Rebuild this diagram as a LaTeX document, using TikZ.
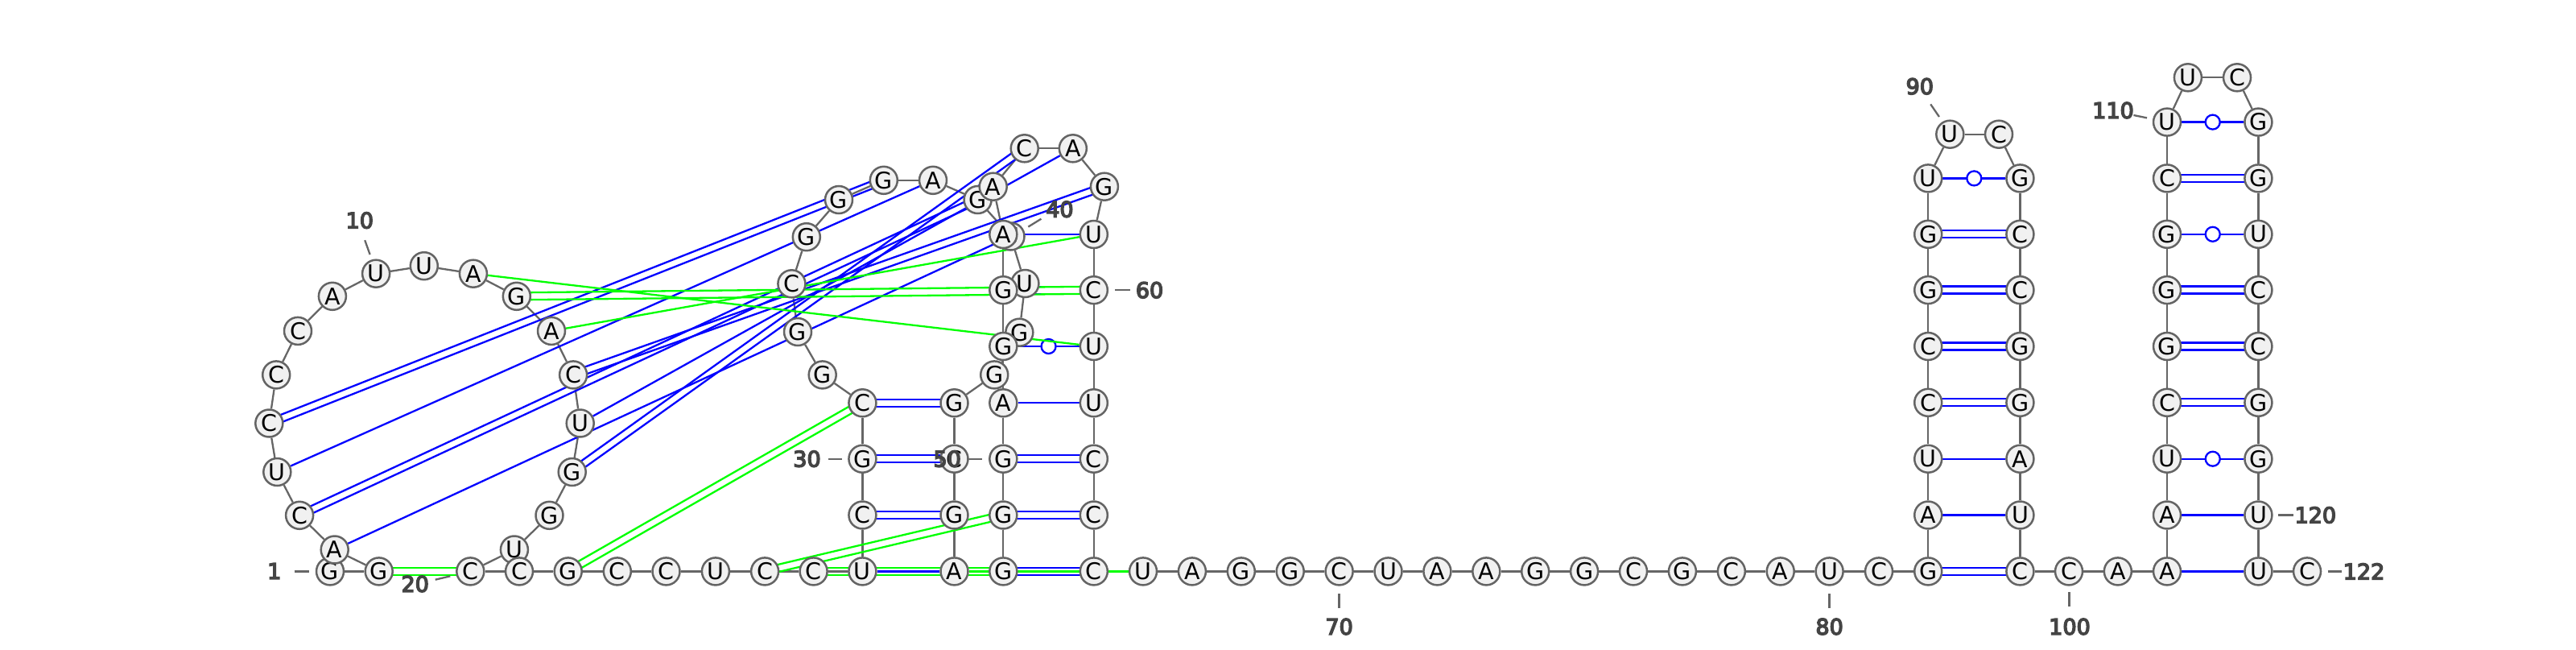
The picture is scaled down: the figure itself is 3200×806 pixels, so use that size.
\documentclass[tikz,border=0pt]{standalone}
\usepackage{fontspec}
\setmainfont{DejaVu Sans}
\newfontfamily\labfont[FakeBold=5.5]{DejaVu Sans}
\usetikzlibrary{calc,backgrounds}
\definecolor{nodefill}{RGB}{241,241,241}
\definecolor{nodeline}{RGB}{100,100,100}
\definecolor{linkgray}{RGB}{102,102,102}
\definecolor{labgray}{RGB}{68,68,68}
\definecolor{purebl}{RGB}{0,0,255}
\definecolor{puregr}{RGB}{0,255,0}
\tikzset{
  nt/.style={circle,draw=nodeline,fill=nodefill,line width=2.5pt,minimum size=34pt,inner sep=0pt,font=\fontsize{28.5}{28.5}\selectfont},
  labeltext/.style={inner sep=0pt,text=labgray,font=\fontsize{27}{27}\labfont},
  tickline/.style={draw=linkgray,line width=2.3pt},
  backbone/.style={draw=linkgray,line width=2.3pt},
  bl/.style={draw=purebl,line width=2.3pt},
  gr/.style={draw=puregr,line width=2.3pt},
  guring/.style={circle,draw=purebl,fill=white,line width=2.3pt,minimum size=18pt,inner sep=0pt}
}
\newcommand{\pairS}[3]{\draw[#1] (n#2) -- (n#3);}
\newcommand{\pairD}[3]{%
  \draw[#1] ($(n#2)!4.5pt!90:(n#3)$) -- ($(n#3)!4.5pt!-90:(n#2)$);
  \draw[#1] ($(n#2)!4.5pt!-90:(n#3)$) -- ($(n#3)!4.5pt!90:(n#2)$);}
\newcommand{\pairW}[2]{%
  \draw[bl] (n#1) -- (n#2);
  \node[guring] (w#1) at ($(n#1)!.5!(n#2)$) {};}
\newcommand{\numlab}[8]{%
  \node[labeltext] (l#1) at (#2,#3) {#4};
  \coordinate (ta#1) at (#5,#6);
  \coordinate (tb#1) at (#7,#8);
  \draw[tickline] (ta#1) -- (tb#1);}
\begin{document}
\begin{tikzpicture}[x=1pt,y=-1pt]
\useasboundingbox (0,0) rectangle (3200,806);
\foreach \i/\px/\py/\L in {
1/410/709.4/G,2/470.7/709.4/G,3/415.7/682.5/A,4/372.1/639.8/C,5/344.3/586/U,6/334.3/525.5/C,
7/343.2/465.4/C,8/370/410.9/C,9/412.9/367.8/A,10/467.1/339.7/U,11/526.8/330.2/U,12/587.9/339.7/A,
13/641.8/367.8/G,14/685/410.9/A,15/712.1/465.4/C,16/720.7/525.5/U,17/710.7/586/G,18/682.5/639.8/G,
19/638.9/682.5/U,20/584.3/709.4/C,21/645/709.4/C,22/705.7/709.4/G,23/766.8/709.4/C,24/827.5/709.4/C,
25/888.9/709.4/U,26/950.1/709.4/C,27/1010.6/709.4/C,28/1071.4/709.4/U,29/1071.4/639.5/C,30/1071.4/569.7/G,
31/1071.4/500.3/C,32/1021.7/465.4/G,33/991/412/G,34/983.4/352.3/C,35/1001.8/294.2/G,36/1042/248/G,
37/1097.8/223.8/G,38/1159/223.8/A,39/1214.6/248/G,40/1255.5/293.5/U,41/1273.4/352/U,42/1266.3/412.7/G,
43/1235.2/465.4/G,44/1185.5/500.3/G,45/1185.5/569.7/C,46/1185.5/639.5/G,47/1185.5/709.4/A,48/1246.3/709.4/G,
49/1246.3/639.5/G,50/1246.3/569.7/G,51/1246.3/500.3/A,52/1246.3/430/G,53/1246.3/360.2/G,54/1246.3/291/A,
55/1233.7/231.7/A,56/1272.7/184.3/C,57/1332.8/184.3/A,58/1371.9/231.7/G,59/1358.8/291/U,60/1358.8/360.2/C,
61/1358.8/430/U,62/1358.8/500.3/U,63/1358.8/569.7/C,64/1358.8/639.5/C,65/1358.8/709.4/C,66/1420/709.4/U,
67/1480.9/709.4/A,68/1541.8/709.4/G,69/1602.7/709.4/G,70/1663.6/709.4/C,71/1724.5/709.4/U,72/1785.4/709.4/A,
73/1846.3/709.4/A,74/1907.2/709.4/G,75/1968.1/709.4/G,76/2029/709.4/C,77/2089.9/709.4/G,78/2150.8/709.4/C,
79/2211.7/709.4/A,80/2272.6/709.4/U,81/2334/709.4/C,82/2395.2/709.4/G,83/2395.2/639.5/A,84/2395.2/569.7/U,
85/2395.2/499.8/C,86/2395.2/430/C,87/2395.2/360.1/G,88/2395.2/290.8/G,89/2395.2/221.4/U,90/2422.3/166.7/U,
91/2483/166.7/C,92/2509.4/221.4/G,93/2509.4/290.8/C,94/2509.4/360.1/C,95/2509.4/430/G,96/2509.4/499.8/G,
97/2509.4/569.7/A,98/2509.4/639.5/U,99/2509.4/709.4/C,100/2570/709.4/C,101/2630.8/709.4/A,102/2692/709.4/A,
103/2692/639.5/A,104/2692/569.7/U,105/2692/499.8/C,106/2692/430/G,107/2692/360.1/G,108/2692/290.8/G,
109/2692/221.4/C,110/2692/151.6/U,111/2717.9/96.3/U,112/2779/96.3/C,113/2805.4/151.6/G,114/2805.4/221.4/G,
115/2805.4/290.8/U,116/2805.4/360.1/C,117/2805.4/430/C,118/2805.4/499.8/G,119/2805.4/569.7/G,120/2805.4/639.5/U,
121/2805.4/709.4/U,122/2866/709.4/C}{
  \node[nt] (n\i) at (\px,\py) {\L};
}
\begin{pgfonlayer}{background}
  \foreach \i [evaluate=\i as \j using int(\i+1)] in {1,...,121} {
    \draw[backbone] (n\i) -- (n\j);
  }
  % blue pairs: long range
  \pairS{bl}{3}{40}
  \pairD{bl}{4}{39}
  \pairS{bl}{5}{38}
  \pairD{bl}{6}{37}
  \pairD{bl}{15}{58}
  \pairS{bl}{16}{57}
  \pairD{bl}{17}{56}
  % first stem
  \pairS{bl}{28}{47}
  \pairD{bl}{29}{46}
  \pairD{bl}{30}{45}
  \pairD{bl}{31}{44}
  % second stem
  \pairD{bl}{48}{65}
  \pairD{bl}{49}{64}
  \pairD{bl}{50}{63}
  \pairS{bl}{51}{62}
  \pairW{52}{61}
  \pairD{bl}{53}{60}
  \pairS{bl}{54}{59}
  % third stem
  \pairD{bl}{82}{99}
  \pairS{bl}{83}{98}
  \pairS{bl}{84}{97}
  \pairD{bl}{85}{96}
  \pairD{bl}{86}{95}
  \pairD{bl}{87}{94}
  \pairD{bl}{88}{93}
  \pairW{89}{92}
  % fourth stem
  \pairS{bl}{102}{121}
  \pairS{bl}{103}{120}
  \pairW{104}{119}
  \pairD{bl}{105}{118}
  \pairD{bl}{106}{117}
  \pairD{bl}{107}{116}
  \pairW{108}{115}
  \pairD{bl}{109}{114}
  \pairW{110}{113}
  % green pairs
  \pairD{gr}{2}{20}
  \pairS{gr}{12}{61}
  \pairD{gr}{13}{60}
  \pairS{gr}{14}{59}
  \pairD{gr}{22}{31}
  \pairD{gr}{26}{49}
  \pairD{gr}{27}{48}
  \pairS{gr}{47}{66}
\end{pgfonlayer}
\numlab{1}{340.7}{709}{1}{365.7}{709.4}{384.3}{709.4}
\numlab{10}{446.8}{273.6}{10}{453.2}{298.2}{459.6}{316}
\numlab{20}{515.7}{725}{20}{540.7}{719.7}{559.3}{715.3}
\numlab{30}{1002.5}{569.7}{30}{1028.6}{569.7}{1045.8}{569.7}
\numlab{40}{1316.4}{259.8}{40}{1277.3}{281.6}{1293.4}{271.7}
\numlab{50}{1176.7}{569.7}{50}{1201}{569.7}{1220}{569.7}
\numlab{60}{1428}{360.2}{60}{1385.2}{360.2}{1403.6}{360.2}
\numlab{70}{1663.6}{778}{70}{1663.6}{737}{1663.6}{755}
\numlab{80}{2272.6}{778}{80}{2272.6}{737}{2272.6}{755}
\numlab{90}{2384.8}{107.2}{90}{2398.2}{129.4}{2408.9}{145}
\numlab{100}{2571}{778}{100}{2570.5}{734.8}{2570.5}{752.8}
\numlab{110}{2625}{137}{110}{2650.4}{143}{2667}{146.4}
\numlab{120}{2876.3}{639.5}{120}{2830.4}{639.5}{2849}{639.5}
\numlab{122}{2936.5}{709.4}{122}{2891.5}{709.4}{2909.4}{709.4}
\end{tikzpicture}
\end{document}
